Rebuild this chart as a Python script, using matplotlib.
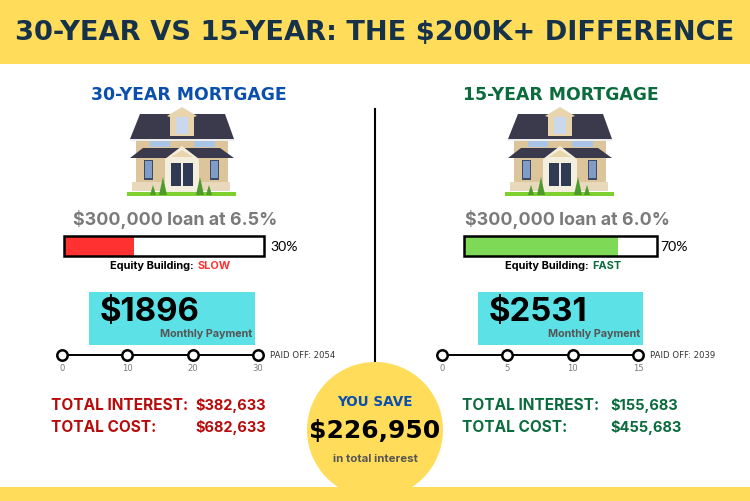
#!/usr/bin/env python3
"""30-year vs 15-year mortgage infographic."""

import matplotlib

matplotlib.use("Agg")

import matplotlib.pyplot as plt
from matplotlib.patches import Circle, Polygon, Rectangle

YELLOW = "#FFDC5A"
CYAN = "#5CE1E6"
BLUE = "#0B4FAE"
GREEN = "#0A6B3C"
RED = "#B80A0A"
GRAY = "#7A7A7A"
DARK_GRAY = "#555555"
WIDE = "DejaVu Sans"
BODY = "Inter"

title = "30-YEAR VS 15-YEAR: THE $200K+ DIFFERENCE"
plan_names = ["30-YEAR MORTGAGE", "15-YEAR MORTGAGE"]
plan_colors = [BLUE, GREEN]
loan_labels = ["$300,000 loan at 6.5%", "$300,000 loan at 6.0%"]
equity_fill = [0.35, 0.80]
equity_labels = ["30%", "70%"]
equity_speed = ["SLOW", "FAST"]
equity_colors = ["#FF3131", "#7ED957"]
speed_colors = ["#FF3131", GREEN]
payments = ["$1896", "$2531"]
timeline_ticks = [[0, 10, 20, 30], [0, 5, 10, 15]]
paid_off = ["PAID OFF: 2054", "PAID OFF: 2039"]
total_interest = ["$382,633", "$155,683"]
total_cost = ["$682,633", "$455,683"]
total_colors = [RED, GREEN]
savings = "$226,950"


def px(size):
    # font size from a height in image pixels (dpi 100)
    return size * 0.72


def put_text(ax, x, y, s, size, color="black", ha="center", weight="bold", family=BODY):
    return ax.text(x, y, s, fontsize=px(size), color=color, ha=ha, va="center",
                   fontweight=weight, family=family, zorder=5)


def draw_house(ax, cx, top):
    def poly(points, color, z=3):
        ax.add_patch(Polygon([(cx + x, top + y) for x, y in points], closed=True,
                             facecolor=color, edgecolor="none", zorder=z))

    def rect(x, y, w, h, color, z=4):
        ax.add_patch(Rectangle((cx + x, top + y), w, h, facecolor=color, edgecolor="none", zorder=z))

    wall = "#DCC49B"
    roof = "#3A3A4C"
    trim = "#F4EEDF"
    glass = "#7F9CC8"

    # lawn and fence
    rect(-55, 81, 109, 4, "#7ED02F", 3)
    rect(-50, 71, 98, 9, "#E8D8BC", 3)
    # walls
    rect(-46, 28, 92, 43, wall, 3)
    # upper roof
    poly([(-42, 3), (43, 3), (52, 28), (-52, 28)], roof)
    rect(-52, 28, 104, 1.5, "#EDEDED", 4)
    # dormer
    poly([(0, -4), (15, 5), (12, 6), (12, 25), (-12, 25), (-12, 6), (-15, 5)], "#E8D5AE", 5)
    rect(-6, 6, 12, 17, "#C9D8EC", 6)
    rect(-0.4, 6, 0.8, 17, "#6F86A8", 7)
    # upper windows
    rect(-32, 30, 20, 6, "#A9C4E4", 5)
    rect(12, 30, 21, 6, "#A9C4E4", 5)
    # porch roof
    poly([(-39, 37), (38, 37), (52, 47), (-52, 47)], roof)
    # gable
    poly([(0, 35), (17, 48), (-17, 48)], trim, 5)
    poly([(0, 39), (11, 46), (-11, 46)], "#E8D5AE", 6)
    # porch and door
    rect(-17, 48, 34, 33, trim, 5)
    rect(-11, 52, 22, 23, "#2F3A55", 6)
    rect(-0.7, 52, 1.4, 23, trim, 7)
    # side windows
    rect(-38, 49, 9, 20, "#3D4A66", 5)
    rect(-37, 50, 7, 17, glass, 6)
    rect(28, 49, 9, 20, "#3D4A66", 5)
    rect(29, 50, 7, 17, glass, 6)
    # shrubs
    for dx, half, h in [(-19, 4, 18), (-29, 3, 10), (18, 4, 18), (27, 3, 10)]:
        poly([(dx - half, 84), (dx, 84 - h), (dx + half, 84)], "#4E9A2E", 8)


def main():
    fig = plt.figure(figsize=(7.5, 5.02), dpi=100, facecolor="white")
    ax = fig.add_axes([0, 0, 1, 1])
    ax.set_xlim(0, 750)
    ax.set_ylim(502, 0)
    ax.axis("off")

    # banners
    ax.add_patch(Rectangle((0, 0), 750, 65, facecolor=YELLOW, edgecolor="none"))
    ax.add_patch(Rectangle((0, 488), 750, 14, facecolor=YELLOW, edgecolor="none"))
    put_text(ax, 375, 33, title, 27.3, color="#16324A", family=WIDE)

    # divider and savings badge
    ax.plot([375, 375], [110, 365], color="black", lw=1.5, zorder=1)
    ax.add_patch(Circle((375, 431), 68, facecolor=YELLOW, edgecolor="none", zorder=2))
    put_text(ax, 375, 402, "YOU SAVE", 13.5, color=BLUE, family=WIDE)
    put_text(ax, 375, 431, savings, 25, family=WIDE)
    put_text(ax, 375, 459, "in total interest", 11.5, color=DARK_GRAY)

    layout = [
        dict(name_x=188.5, house_x=182, loan_x=175, bar_x=64, bar_w=200, label_x=270, speed_x=172,
             box_x=89, box_w=166, pay_x=100, line_x=62, line_w=196, off_x=270,
             tot_x=51, val_x=195),
        dict(name_x=560.5, house_x=560, loan_x=567.5, bar_x=463.5, bar_w=193, label_x=660, speed_x=567,
             box_x=478, box_w=165, pay_x=489, line_x=442, line_w=196, off_x=650,
             tot_x=462, val_x=610),
    ]

    for i, pos in enumerate(layout):
        put_text(ax, pos["name_x"], 95, plan_names[i], 17.3, color=plan_colors[i], family=WIDE)
        draw_house(ax, pos["house_x"], 112)
        put_text(ax, pos["loan_x"], 220, loan_labels[i], 17.9, color=GRAY)

        # equity bar
        ax.add_patch(Rectangle((pos["bar_x"], 237), pos["bar_w"] * equity_fill[i], 20,
                               facecolor=equity_colors[i], edgecolor="none", zorder=2))
        ax.add_patch(Rectangle((pos["bar_x"], 237), pos["bar_w"], 20, facecolor="none",
                               edgecolor="black", lw=1.8, zorder=3))
        put_text(ax, pos["label_x"], 247, equity_labels[i], 14, ha="left", weight="normal", family="Lato")
        lab = put_text(ax, pos["speed_x"] - 19, 266, "Equity Building: ", 11)
        fig.canvas.draw()
        box = lab.get_window_extent().transformed(ax.transData.inverted())
        put_text(ax, box.x1 + 1, 266, equity_speed[i], 11, color=speed_colors[i], ha="left")

        # monthly payment
        ax.add_patch(Rectangle((pos["box_x"], 293), pos["box_w"], 53, facecolor=CYAN, edgecolor="none"))
        put_text(ax, pos["pay_x"], 313, payments[i], 33, ha="left")
        put_text(ax, pos["box_x"] + pos["box_w"] - 3, 334, "Monthly Payment", 10.8,
                 color=DARK_GRAY, ha="right")

        # payoff timeline
        ticks = timeline_ticks[i]
        xs = [pos["line_x"] + pos["line_w"] * t / ticks[-1] for t in ticks]
        ax.plot(xs, [356] * len(xs), color="black", lw=1.4, marker="o", ms=7.5,
                mfc="white", mec="black", mew=1.8, zorder=3)
        for x, t in zip(xs, ticks):
            put_text(ax, x, 369, str(t), 8.5, color=GRAY, weight="normal", family="DejaVu Sans")
        put_text(ax, pos["off_x"], 356, paid_off[i], 8.5, color="#333333", ha="left", weight="normal",
                 family="DejaVu Sans")

        # totals
        put_text(ax, pos["tot_x"], 406, "TOTAL INTEREST:", 15.4, color=total_colors[i], ha="left")
        put_text(ax, pos["val_x"], 406, total_interest[i], 14.6, color=total_colors[i], ha="left")
        put_text(ax, pos["tot_x"], 428, "TOTAL COST:", 15.4, color=total_colors[i], ha="left")
        put_text(ax, pos["val_x"], 428, total_cost[i], 14.6, color=total_colors[i], ha="left")

    fig.savefig("out.png", dpi=100)
    plt.close(fig)
    return 0


if __name__ == "__main__":
    raise SystemExit(main())
